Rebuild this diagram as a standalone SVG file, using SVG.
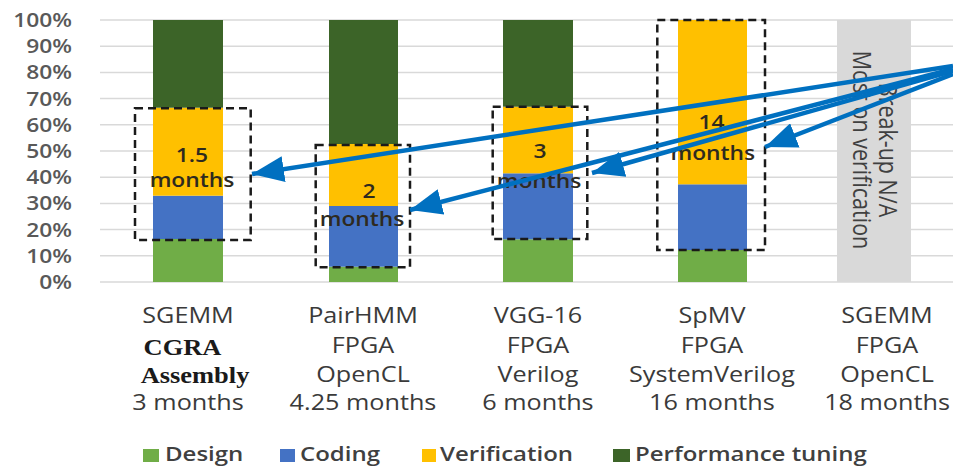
<svg xmlns="http://www.w3.org/2000/svg" width="953" height="467" viewBox="0 0 953 467">
  <style>
    .grid { stroke: #d9d9d9; stroke-width: 1.5; }
    .design { fill: #70ad47; }
    .coding { fill: #4472c4; }
    .verif { fill: #ffc000; }
    .perf { fill: #3c6428; }
    .na { fill: #d9d9d9; }
    .box { fill: none; stroke: #1a1a1a; stroke-width: 2.5; stroke-dasharray: 8 5; }
    .ytick { font-family: "Open Sans", "DejaVu Sans", sans-serif; font-size: 19px; font-weight: 600; fill: #595959; text-anchor: end; }
    .cat { font-family: "Open Sans", "DejaVu Sans", sans-serif; font-size: 21px; fill: #3a3a3a; text-anchor: middle; }
    .serif { font-family: "Liberation Serif", "Times New Roman", serif; font-size: 23px; font-weight: bold; fill: #1a1a1a; text-anchor: middle; }
    .dur { font-family: "Open Sans", "DejaVu Sans", sans-serif; font-size: 19px; font-weight: 600; fill: #2e2a1f; text-anchor: middle; }
    .note { font-family: "Open Sans", "DejaVu Sans", sans-serif; font-size: 21.5px; fill: #404040; text-anchor: middle; }
    .leg { font-family: "Open Sans", "DejaVu Sans", sans-serif; font-size: 20px; font-weight: 600; fill: #404040; }
    .arrow { stroke: #0070c0; stroke-width: 4.5; fill: none; marker-end: url(#head); }
  </style>
  <defs>
    <marker id="head" markerUnits="userSpaceOnUse" markerWidth="34" markerHeight="26" refX="32" refY="13" orient="auto">
      <path d="M0,0 L32,13 L0,26 z" fill="#0070c0"/>
    </marker>
  </defs>

  <rect width="953" height="467" fill="#ffffff"/>

  <!-- gridlines -->
  <g id="gridlines">
    <line class="grid" x1="100" y1="20" x2="953" y2="20"/>
    <line class="grid" x1="100" y1="46.2" x2="953" y2="46.2"/>
    <line class="grid" x1="100" y1="72.4" x2="953" y2="72.4"/>
    <line class="grid" x1="100" y1="98.6" x2="953" y2="98.6"/>
    <line class="grid" x1="100" y1="124.8" x2="953" y2="124.8"/>
    <line class="grid" x1="100" y1="151" x2="953" y2="151"/>
    <line class="grid" x1="100" y1="177.2" x2="953" y2="177.2"/>
    <line class="grid" x1="100" y1="203.4" x2="953" y2="203.4"/>
    <line class="grid" x1="100" y1="229.6" x2="953" y2="229.6"/>
    <line class="grid" x1="100" y1="255.8" x2="953" y2="255.8"/>
    <line class="grid" x1="100" y1="282" x2="953" y2="282"/>
  </g>

  <!-- y axis -->
  <g id="y-axis" transform="scale(1.2 1)">
    <text class="ytick" x="60" y="27">100%</text>
    <text class="ytick" x="60" y="53.2">90%</text>
    <text class="ytick" x="60" y="79.4">80%</text>
    <text class="ytick" x="60" y="105.6">70%</text>
    <text class="ytick" x="60" y="131.8">60%</text>
    <text class="ytick" x="60" y="158">50%</text>
    <text class="ytick" x="60" y="184.2">40%</text>
    <text class="ytick" x="60" y="210.4">30%</text>
    <text class="ytick" x="60" y="236.6">20%</text>
    <text class="ytick" x="60" y="262.8">10%</text>
    <text class="ytick" x="60" y="289">0%</text>
  </g>

  <!-- SGEMM / CGRA -->
  <g id="bar-sgemm-cgra">
    <rect class="design" x="153" y="239" width="70" height="43"/>
    <rect class="coding" x="153" y="195.7" width="70" height="43.3"/>
    <rect class="verif" x="153" y="107.7" width="70" height="88"/>
    <rect class="perf" x="153" y="20" width="70" height="87.7"/>
    <rect class="box" x="135" y="108.3" width="115.7" height="131.7"/>
    <g transform="scale(1.2 1)">
      <text class="dur" x="160" y="162">1.5</text>
      <text class="dur" x="160" y="187">months</text>
      <text class="cat" x="156.7" y="323">SGEMM</text>
      <text class="cat" x="156.7" y="410">3 months</text>
    </g>
    <g transform="scale(1.15 1)">
      <text class="serif" x="158.7" y="355">CGRA</text>
      <text class="serif" x="169.6" y="383">Assembly</text>
    </g>
  </g>

  <!-- PairHMM -->
  <g id="bar-pairhmm">
    <rect class="design" x="329" y="266.7" width="69" height="15.3"/>
    <rect class="coding" x="329" y="206" width="69" height="60.7"/>
    <rect class="verif" x="329" y="144" width="69" height="62"/>
    <rect class="perf" x="329" y="20" width="69" height="124"/>
    <rect class="box" x="315.7" y="145" width="94.3" height="122.3"/>
    <g transform="scale(1.2 1)">
      <text class="dur" x="307.5" y="198">2</text>
      <text class="dur" x="301.7" y="226">months</text>
      <text class="cat" x="302.5" y="323">PairHMM</text>
      <text class="cat" x="302.5" y="353">FPGA</text>
      <text class="cat" x="302.5" y="382">OpenCL</text>
      <text class="cat" x="302.5" y="410">4.25 months</text>
    </g>
  </g>

  <!-- VGG-16 -->
  <g id="bar-vgg16">
    <rect class="design" x="503" y="239.3" width="70" height="42.7"/>
    <rect class="coding" x="503" y="173.3" width="70" height="66"/>
    <rect class="verif" x="503" y="106.7" width="70" height="66.6"/>
    <rect class="perf" x="503" y="20" width="70" height="86.7"/>
    <rect class="box" x="492.7" y="106.7" width="94.6" height="132.3"/>
    <g transform="scale(1.2 1)">
      <text class="dur" x="450" y="158">3</text>
      <text class="dur" x="449.2" y="188">months</text>
      <text class="cat" x="448.3" y="323">VGG-16</text>
      <text class="cat" x="448.3" y="353">FPGA</text>
      <text class="cat" x="448.3" y="382">Verilog</text>
      <text class="cat" x="448.3" y="410">6 months</text>
    </g>
  </g>

  <!-- SpMV -->
  <g id="bar-spmv">
    <rect class="design" x="678" y="250" width="69" height="32"/>
    <rect class="coding" x="678" y="184.3" width="69" height="65.7"/>
    <rect class="verif" x="678" y="20" width="69" height="164.3"/>
    <rect class="box" x="657.3" y="20" width="107.7" height="230"/>
    <g transform="scale(1.2 1)">
      <text class="dur" x="593" y="129">14</text>
      <text class="dur" x="594" y="160">months</text>
      <text class="cat" x="593.3" y="323">SpMV</text>
      <text class="cat" x="593.3" y="353">FPGA</text>
      <text class="cat" x="593.3" y="382">SystemVerilog</text>
      <text class="cat" x="593.3" y="410">16 months</text>
    </g>
  </g>

  <!-- SGEMM / FPGA (no breakdown) -->
  <g id="bar-sgemm-fpga">
    <rect class="na" x="837" y="20" width="74" height="262"/>
    <g transform="translate(853 150) scale(1.2 1) rotate(90)">
      <text class="note" x="0" y="-21.7">Break-up N/A</text>
      <text class="note" x="0" y="0">Most on verification</text>
    </g>
    <g transform="scale(1.2 1)">
      <text class="cat" x="739.2" y="323">SGEMM</text>
      <text class="cat" x="739.2" y="353">FPGA</text>
      <text class="cat" x="739.2" y="382">OpenCL</text>
      <text class="cat" x="739.2" y="410">18 months</text>
    </g>
  </g>

  <!-- callout arrows -->
  <g id="connectors">
    <line class="arrow" x1="953" y1="66" x2="252" y2="174"/>
    <line class="arrow" x1="953" y1="69" x2="410" y2="210"/>
    <line class="arrow" x1="953" y1="71" x2="592" y2="173"/>
    <line class="arrow" x1="953" y1="74" x2="765" y2="147"/>
  </g>

  <!-- legend -->
  <g id="legend">
    <rect class="design" x="143" y="449" width="16" height="13"/>
    <rect class="coding" x="280" y="449" width="15" height="13"/>
    <rect class="verif" x="422" y="449" width="14" height="13"/>
    <rect class="perf" x="613" y="449" width="17" height="13"/>
    <g transform="scale(1.2 1)">
      <text class="leg" x="137.5" y="461">Design</text>
      <text class="leg" x="250" y="461">Coding</text>
      <text class="leg" x="366.7" y="461">Verification</text>
      <text class="leg" x="529.2" y="461">Performance tuning</text>
    </g>
  </g>
</svg>
